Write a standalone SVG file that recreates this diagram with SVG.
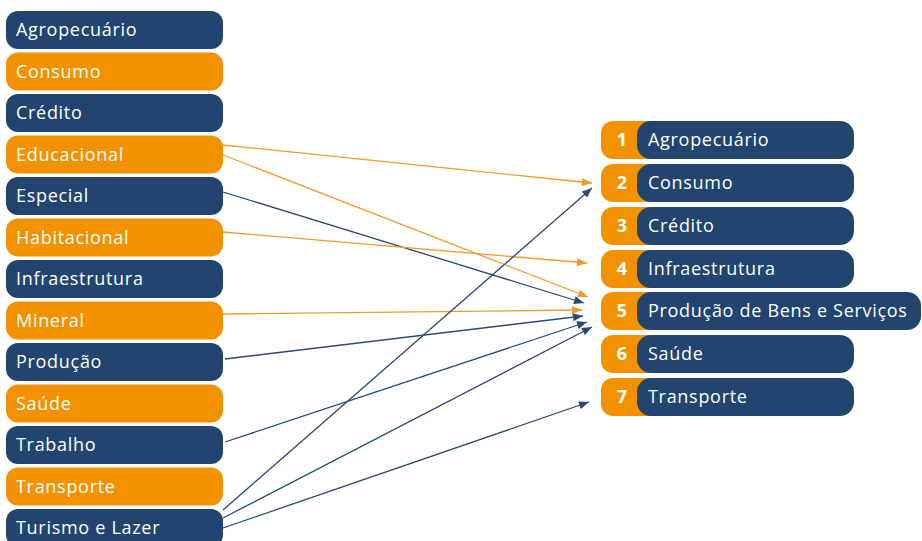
<svg xmlns="http://www.w3.org/2000/svg" width="922" height="541" viewBox="0 0 922 541">
<style>
.b{fill:#21456F}
.o{fill:#F29200}
.t{font-family:"Open Sans","Noto Sans",sans-serif;font-size:18px;letter-spacing:0.7px;fill:#fff}
.n{font-family:"Open Sans","Noto Sans",sans-serif;font-size:18px;font-weight:bold;fill:#fff;text-anchor:middle}
.lb{stroke:#2A4A72;stroke-width:1.3;fill:none;marker-end:url(#ab)}
.lo{stroke:#F29A2E;stroke-width:1.3;fill:none;marker-end:url(#ao)}
</style>
<defs>
<marker id="ab" viewBox="0 0 10 8" refX="10" refY="4" markerWidth="11" markerHeight="8" markerUnits="userSpaceOnUse" orient="auto"><path d="M0,0 L10,4 L0,8 Z" fill="#2A4A72"/></marker>
<marker id="ao" viewBox="0 0 10 8" refX="10" refY="4" markerWidth="11" markerHeight="8" markerUnits="userSpaceOnUse" orient="auto"><path d="M0,0 L10,4 L0,8 Z" fill="#F29A2E"/></marker>
</defs>
<rect width="922" height="541" fill="#fff"/>
<g id="left">
<g id="l1"><rect class="b" x="6" y="11" width="217" height="38" rx="12"/><text class="t" x="16" y="36">Agropecuário</text></g>
<g id="l2"><rect class="o" x="6" y="52.5" width="217" height="38" rx="12"/><text class="t" x="16" y="77.5">Consumo</text></g>
<g id="l3"><rect class="b" x="6" y="94" width="217" height="38" rx="12"/><text class="t" x="16" y="119">Crédito</text></g>
<g id="l4"><rect class="o" x="6" y="135.5" width="217" height="38" rx="12"/><text class="t" x="16" y="160.5">Educacional</text></g>
<g id="l5"><rect class="b" x="6" y="177" width="217" height="38" rx="12"/><text class="t" x="16" y="202">Especial</text></g>
<g id="l6"><rect class="o" x="6" y="218.5" width="217" height="38" rx="12"/><text class="t" x="16" y="243.5">Habitacional</text></g>
<g id="l7"><rect class="b" x="6" y="260" width="217" height="38" rx="12"/><text class="t" x="16" y="285">Infraestrutura</text></g>
<g id="l8"><rect class="o" x="6" y="301.5" width="217" height="38" rx="12"/><text class="t" x="16" y="326.5">Mineral</text></g>
<g id="l9"><rect class="b" x="6" y="343" width="217" height="38" rx="12"/><text class="t" x="16" y="368">Produção</text></g>
<g id="l10"><rect class="o" x="6" y="384.5" width="217" height="38" rx="12"/><text class="t" x="16" y="409.5">Saúde</text></g>
<g id="l11"><rect class="b" x="6" y="426" width="217" height="38" rx="12"/><text class="t" x="16" y="451">Trabalho</text></g>
<g id="l12"><rect class="o" x="6" y="467.5" width="217" height="38" rx="12"/><text class="t" x="16" y="492.5">Transporte</text></g>
<g id="l13"><rect class="b" x="6" y="509" width="217" height="38" rx="12"/><text class="t" x="16" y="534">Turismo e Lazer</text></g>
</g>
<g id="right">
<g id="r1"><rect class="o" x="601" y="121" width="90" height="38" rx="12"/><rect class="b" x="637" y="121" width="217" height="38" rx="14"/><text class="n" x="622" y="146">1</text><text class="t" x="648" y="146">Agropecuário</text></g>
<g id="r2"><rect class="o" x="601" y="164" width="90" height="38" rx="12"/><rect class="b" x="637" y="164" width="217" height="38" rx="14"/><text class="n" x="622" y="189">2</text><text class="t" x="648" y="189">Consumo</text></g>
<g id="r3"><rect class="o" x="601" y="207" width="90" height="38" rx="12"/><rect class="b" x="637" y="207" width="217" height="38" rx="14"/><text class="n" x="622" y="232">3</text><text class="t" x="648" y="232">Crédito</text></g>
<g id="r4"><rect class="o" x="601" y="250" width="90" height="38" rx="12"/><rect class="b" x="637" y="250" width="217" height="38" rx="14"/><text class="n" x="622" y="275">4</text><text class="t" x="648" y="275">Infraestrutura</text></g>
<g id="r5"><rect class="o" x="601" y="292" width="90" height="38" rx="12"/><rect class="b" x="637" y="292" width="284" height="38" rx="14"/><text class="n" x="622" y="317">5</text><text class="t" x="648" y="317">Produção de Bens e Serviços</text></g>
<g id="r6"><rect class="o" x="601" y="335" width="90" height="38" rx="12"/><rect class="b" x="637" y="335" width="217" height="38" rx="14"/><text class="n" x="622" y="360">6</text><text class="t" x="648" y="360">Saúde</text></g>
<g id="r7"><rect class="o" x="601" y="378" width="90" height="38" rx="12"/><rect class="b" x="637" y="378" width="217" height="38" rx="14"/><text class="n" x="622" y="403">7</text><text class="t" x="648" y="403">Transporte</text></g>
</g>
<g id="connectors">
<line class="lo" x1="223" y1="145" x2="592" y2="183"/>
<line class="lo" x1="223" y1="155" x2="588" y2="297"/>
<line class="lb" x1="223" y1="192" x2="584" y2="303"/>
<line class="lo" x1="223" y1="232" x2="587" y2="263"/>
<line class="lo" x1="223" y1="314" x2="582" y2="310"/>
<line class="lb" x1="225" y1="359" x2="583" y2="316"/>
<line class="lb" x1="225" y1="442" x2="587" y2="322"/>
<line class="lb" x1="223" y1="510" x2="592" y2="188"/>
<line class="lb" x1="223" y1="518" x2="592" y2="327"/>
<line class="lb" x1="223" y1="528" x2="589" y2="402"/>
</g>
</svg>
